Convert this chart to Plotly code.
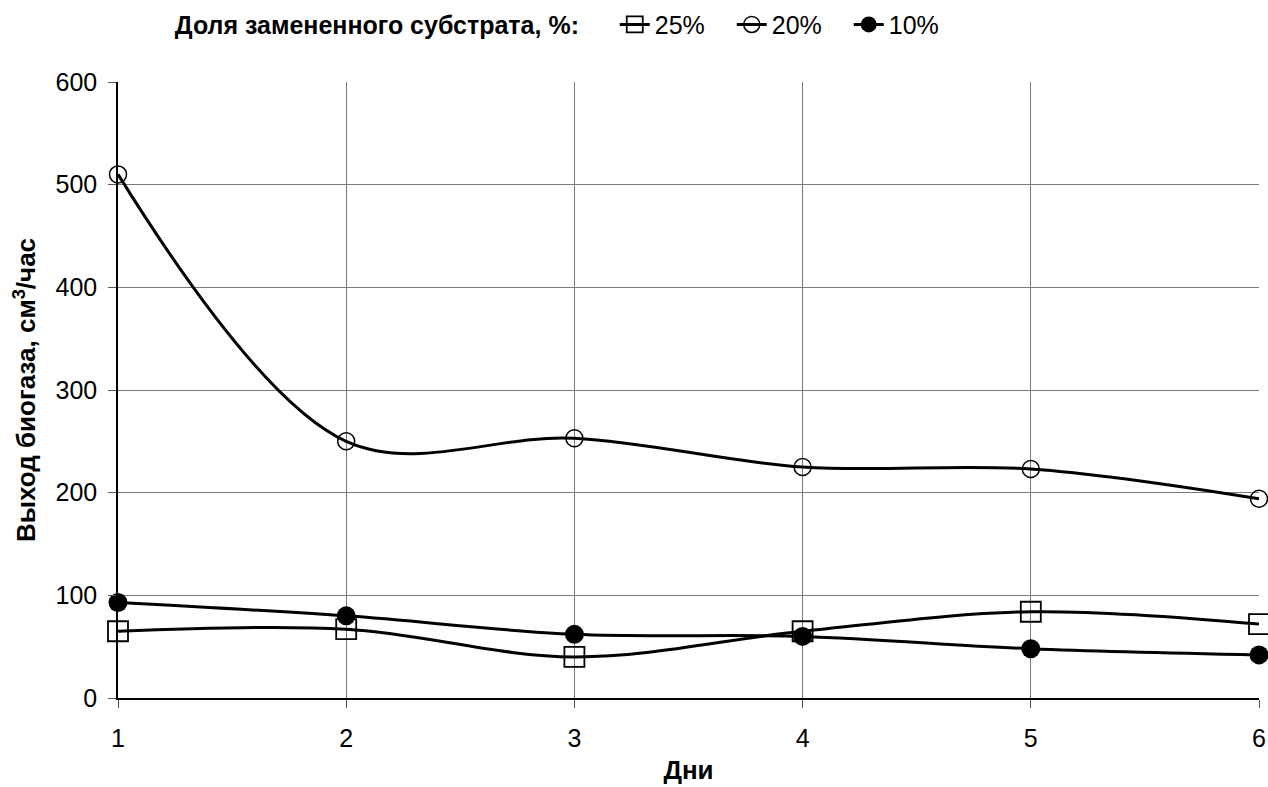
import plotly.graph_objects as go

days = [1, 2, 3, 4, 5, 6]
share_25 = [65, 67, 40, 65, 84, 72]
share_20 = [510, 250, 253, 225, 223, 194]
share_10 = [93, 80, 62, 60, 48, 42]

series = [
    ("25%", share_25, "square-open", 20, 1.8),
    ("20%", share_20, "circle-open", 17, 1.5),
    ("10%", share_10, "circle", 19, 0),
]

fig = go.Figure()
for name, vals, sym, size, mlw in series:
    fig.add_trace(go.Scatter(
        x=days, y=vals, name=name, mode="lines+markers",
        line=dict(color="black", width=3, shape="spline", smoothing=1.0),
        marker=dict(symbol=sym, size=size, color="black",
                    line=dict(color="black", width=mlw)),
        cliponaxis=False,
    ))

font_family = "Liberation Sans, Arial, sans-serif"

fig.update_layout(
    width=1268, height=787,
    margin=dict(l=118, r=9, t=82, b=89, autoexpand=False),
    paper_bgcolor="white", plot_bgcolor="white",
    font=dict(family=font_family, size=25, color="black"),
    showlegend=True,
    legend=dict(
        orientation="h", x=0.048, y=1.093, xanchor="left", yanchor="middle",
        title=dict(text="<b>Доля замененного субстрата, %:</b>&nbsp;&nbsp;&nbsp;&nbsp;",
                   font=dict(size=25), side="left"),
        font=dict(size=25), itemwidth=30, tracegroupgap=0,
        entrywidth=72, entrywidthmode="pixels",
        bgcolor="rgba(0,0,0,0)",
    ),
    xaxis=dict(
        range=[1, 6], tickvals=days, ticks="outside", ticklen=8,
        tickcolor="#555", showgrid=True, gridcolor="#7a7a7a", gridwidth=1,
        showline=True, linecolor="black", linewidth=1.5, zeroline=False,
        title=dict(text="<b>Дни</b>", font=dict(size=26), standoff=10),
        tickfont=dict(size=25), ticklabelstandoff=9,
    ),
    yaxis=dict(
        range=[0, 600], dtick=100, ticks="outside", ticklen=8,
        tickcolor="#555", showgrid=True, gridcolor="#7a7a7a", gridwidth=1,
        showline=True, linecolor="black", linewidth=1.5, zeroline=False,
        title=dict(text="<b>Выход биогаза, см<sup>3</sup>/час</b>",
                   font=dict(size=26), standoff=12),
        tickfont=dict(size=25), ticklabelstandoff=6,
    ),
)

fig.write_html("out.html")
